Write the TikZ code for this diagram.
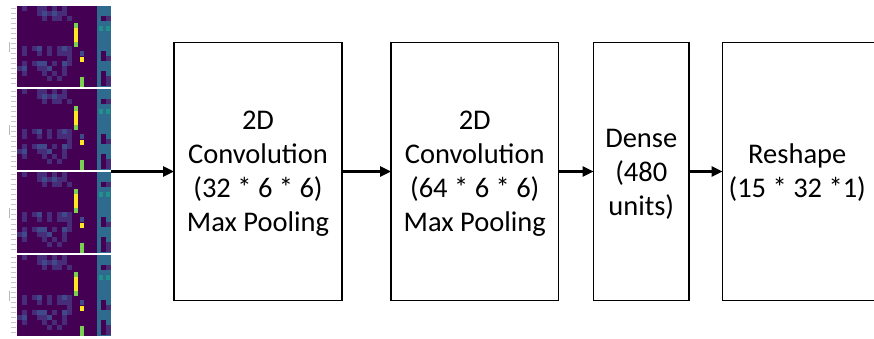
\documentclass[tikz,border=0pt]{standalone}
\usepackage{fontspec}
\setmainfont{Carlito}
\usetikzlibrary{arrows.meta}
\definecolor{vpA}{HTML}{440154}
\definecolor{vpB}{HTML}{472C7A}
\definecolor{vpC}{HTML}{3E4A89}
\definecolor{vtA}{HTML}{2F6B8E}
\definecolor{vtB}{HTML}{21918C}
\definecolor{vgA}{HTML}{7AD151}
\definecolor{vyA}{HTML}{FDE725}
\newcommand\hmpanel[1]{%
\begin{scope}[shift={(0,#1)}]
  \fill[vpA] (17,0) rectangle (97,81);
  \fill[vtA] (97,0) rectangle (111,81);
  \foreach \cx/\cy/\cc in {22/0/vpB,37/0/vpB,42/0/vpB,52/0/vpB,62/0/vpB,
    37/5/vpB,42/5/vpC,47/5/vpB,52/5/vpC,57/5/vpB,62/5/vpB,
    42/10/vpB,52/10/vpB,57/10/vpB,67/10/vpB,
    22/40/vpB,32/40/vpB,37/40/vpC,47/40/vpB,57/40/vpB,62/40/vpC,67/40/vpB,
    22/45/vpB,37/45/vpB,47/45/vpB,57/45/vpB,62/45/vpB,67/45/vpB,
    67/50/vpB,
    22/55/vpB,32/55/vpB,37/55/vpC,42/55/vpC,52/55/vpB,62/55/vpC,67/55/vpB,
    17/60/vpB,22/60/vpC,37/60/vpB,42/60/vpB,47/60/vpC,62/60/vpB,
    22/65/vpB,42/65/vpB,52/65/vpB,62/65/vpB,47/70/vpB,57/70/vpB}
    {\fill[\cc] (\cx,\cy) rectangle ++(5,5);}
  \fill[vgA] (74,16.5) rectangle (78,21.5);
  \fill[vyA] (74,21.5) rectangle (78,35.5);
  \fill[vgA] (74,35.5) rectangle (78,40.5);
  \fill[vpC] (80,45) rectangle (84,50);
  \fill[vyA] (80,50.5) rectangle (84,55.5);
  \fill[vgA] (80,71) rectangle (84,81);
  \foreach \cy in {10,45,50,65,70,75}{\fill[vpA] (101,\cy) rectangle ++(5,5);}
  \foreach \cy in {10,50,70,75}{\fill[vpB] (106,\cy) rectangle ++(5,5);}
  \fill[vtB] (99,20) rectangle ++(4,5);
  \fill[vtB] (106,20) rectangle ++(4,5);
  \foreach \i in {0,...,15}{\draw[gray!45, line width=0.6pt] (11,2.5+5*\i) -- (16,2.5+5*\i);}
  \draw[gray!55, line width=0.7pt] (9.5,36) -- (9.5,46);
\end{scope}}
\begin{document}
\begin{tikzpicture}[x=1pt,y=-1pt,
  blk/.style={draw=black, line width=1.6pt, fill=white, inner sep=0pt,
    outer sep=0pt, minimum height=258pt, anchor=north west},
  lbl/.style={font=\fontsize{28.5}{34}\selectfont, align=center, inner sep=0pt},
  arr/.style={line width=2.6pt, -{Triangle[length=11pt,width=10pt]}}]
\useasboundingbox (0,0) rectangle (874,338);
\fill[white] (0,0) rectangle (874,338);
\hmpanel{6}
\hmpanel{89}
\hmpanel{172}
\hmpanel{255}
\coordinate (img) at (111,0);
\node[blk, minimum width=168pt] (b1) at (174,42.5) {};
\node[blk, minimum width=167.5pt] (b2) at (391,42.5) {};
\node[blk, minimum width=95.5pt] (b3) at (593.5,42.5) {};
\node[blk, minimum width=153.5pt] (b4) at (722.5,42.5) {};
\node[lbl, yshift=-2.5pt] (t1) at (b1.center) {2D\\Convolution\\(32 * 6 * 6)\\Max Pooling};
\node[lbl, yshift=-2.5pt] (t2) at (b2.center) {2D\\Convolution\\(64 * 6 * 6)\\Max Pooling};
\node[lbl, yshift=-2.5pt] (t3) at (b3.center) {Dense\\(480\\units)};
\node[lbl, yshift=-1pt] (t4) at ([xshift=-2pt]b4.center) {Reshape\\(15 * 32 *1)};
\draw[arr] (b1.west -| img) -- (b1.west);
\draw[arr] (b1.east) -- (b2.west);
\draw[arr] (b2.east) -- (b3.west);
\draw[arr] (b3.east) -- (b4.west);
\end{tikzpicture}
\end{document}
